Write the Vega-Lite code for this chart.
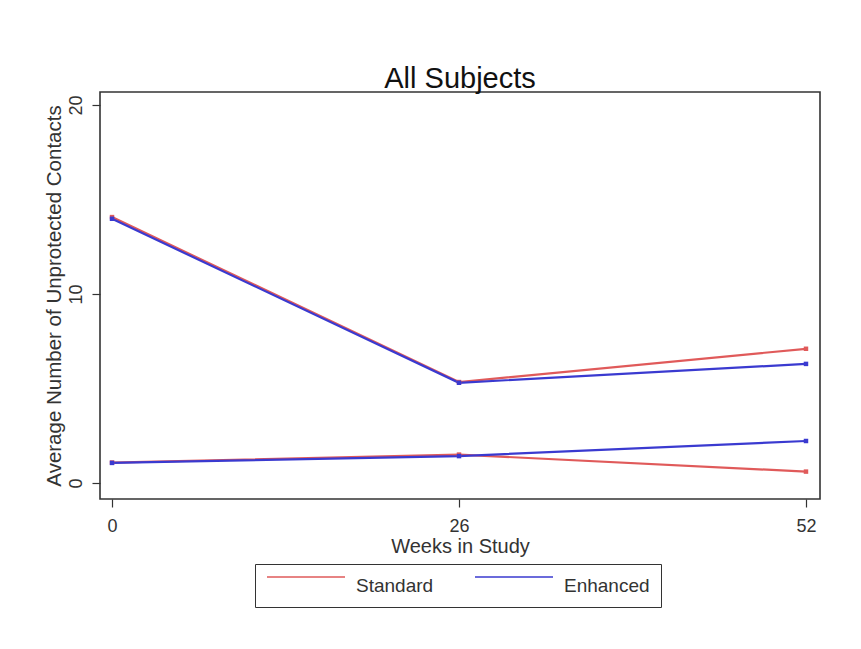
{
  "$schema": "https://vega.github.io/schema/vega-lite/v6.json",
  "autosize": "none",
  "width": 720,
  "height": 407,
  "padding": {"left": 100, "top": 92, "right": 41, "bottom": 150},
  "background": "white",
  "title": {"text": "All Subjects", "fontSize": 29, "font": "Liberation Sans", "fontWeight": "normal", "color": "#111", "offset": -2},
  "config": {
    "view": {"stroke": "#333", "strokeWidth": 1.6},
    "font": "Liberation Sans"
  },
  "data": {
    "values": [
      {"week": 0, "value": 14.07, "group": "Standard", "sub": "high"},
      {"week": 26, "value": 5.34, "group": "Standard", "sub": "high"},
      {"week": 52, "value": 7.1, "group": "Standard", "sub": "high"},
      {"week": 0, "value": 1.08, "group": "Standard", "sub": "low"},
      {"week": 26, "value": 1.5, "group": "Standard", "sub": "low"},
      {"week": 52, "value": 0.6, "group": "Standard", "sub": "low"},
      {"week": 0, "value": 13.98, "group": "Enhanced", "sub": "high"},
      {"week": 26, "value": 5.3, "group": "Enhanced", "sub": "high"},
      {"week": 52, "value": 6.3, "group": "Enhanced", "sub": "high"},
      {"week": 0, "value": 1.06, "group": "Enhanced", "sub": "low"},
      {"week": 26, "value": 1.42, "group": "Enhanced", "sub": "low"},
      {"week": 52, "value": 2.22, "group": "Enhanced", "sub": "low"}
    ]
  },
  "encoding": {
    "x": {
      "field": "week", "type": "quantitative",
      "scale": {"domain": [-0.9, 53.05], "nice": false, "zero": false},
      "axis": {"values": [0, 26, 52], "title": "Weeks in Study", "grid": false, "domain": false,
        "tickColor": "#333", "tickSize": 8, "tickWidth": 1.2, "labelFontSize": 18, "labelColor": "#333",
        "labelPadding": 10, "titleFontSize": 20, "titleFontWeight": "normal", "titleColor": "#333", "titlePadding": 1}
    },
    "y": {
      "field": "value", "type": "quantitative",
      "scale": {"domain": [-0.85, 20.69], "nice": false, "zero": false},
      "axis": {"values": [0, 10, 20], "title": "Average Number of Unprotected Contacts", "grid": false, "domain": false,
        "tickColor": "#333", "tickSize": 8, "tickWidth": 1.2, "labelFontSize": 18, "labelColor": "#333", "labelAngle": -90,
        "labelPadding": 7, "titleFontSize": 20.5, "titleFontWeight": "normal", "titleColor": "#333", "titlePadding": 3}
    },
    "color": {
      "field": "group", "type": "nominal",
      "scale": {"domain": ["Standard", "Enhanced"], "range": ["#e05a5a", "#3a3ad0"]},
      "legend": {"title": null, "orient": "none", "legendX": 155, "legendY": 472, "direction": "horizontal",
        "strokeColor": "#333", "padding": 11, "symbolType": "M-1,-0.9H6.8", "symbolSize": 400, "symbolStrokeWidth": 2,
        "symbolOpacity": 0.75, "labelFontSize": 19, "labelColor": "#333", "columnPadding": 37, "labelOffset": 68}
    },
    "detail": {"field": "sub"}
  },
  "layer": [
    {"mark": {"type": "line", "strokeWidth": 2.2}},
    {"mark": {"type": "point", "shape": "square", "filled": true, "size": 20, "opacity": 1}}
  ]
}
